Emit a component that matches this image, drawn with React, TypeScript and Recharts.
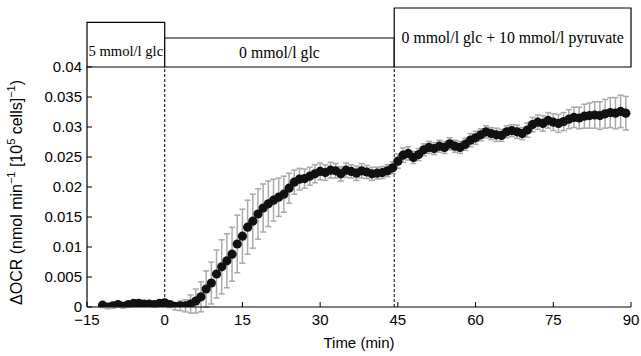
import {
  ScatterChart,
  Scatter,
  XAxis,
  YAxis,
  ErrorBar,
  ReferenceLine,
  ReferenceArea,
} from 'recharts'

// time points (min) and mean ΔOCR with SD
const times = [
  -12, -11, -10, -9, -8, -7, -6, -5, -4, -3, -2, -1, 0, 1, 2, 3, 4, 5, 6, 7, 8, 9, 10, 11, 12, 13, 14,
  15, 16, 17, 18, 19, 20, 21, 22, 23, 24, 25, 26, 27, 28, 29, 30, 31, 32, 33, 34, 35, 36, 37, 38, 39,
  40, 41, 42, 43, 44, 45, 46, 47, 48, 49, 50, 51, 52, 53, 54, 55, 56, 57, 58, 59, 60, 61, 62, 63, 64,
  65, 66, 67, 68, 69, 70, 71, 72, 73, 74, 75, 76, 77, 78, 79, 80, 81, 82, 83, 84, 85, 86, 87, 88, 89,
]

const ocr = [
  0.0003, 0.0, 0.0002, 0.0004, 0.0001, 0.0004, 0.0006, 0.0006, 0.0005, 0.0005, 0.0004, 0.0006,
  0.0007, 0.0004, 0.0001, 0.0002, 0.0002, 0.0005, 0.001, 0.0017, 0.003, 0.004, 0.0055, 0.0067,
  0.0077, 0.0088, 0.0105, 0.0118, 0.0133, 0.0143, 0.0155, 0.0165, 0.0172, 0.0178, 0.0183, 0.0188,
  0.0198, 0.0208, 0.0213, 0.0214, 0.0218, 0.0222, 0.0226, 0.0224, 0.0228, 0.0227, 0.0222, 0.0228,
  0.0226, 0.0223, 0.0227, 0.0225, 0.0222, 0.0223, 0.0224, 0.0227, 0.0232, 0.0243, 0.0253, 0.0256,
  0.0249, 0.0254, 0.0262, 0.0266, 0.0264, 0.0268, 0.0266, 0.0272, 0.0268, 0.0266, 0.0271, 0.0278,
  0.0282, 0.0287, 0.0292, 0.0289, 0.0287, 0.0286, 0.0292, 0.0294, 0.0292, 0.0289, 0.0295, 0.0304,
  0.0308, 0.0306, 0.0311, 0.0308, 0.0306, 0.0309, 0.0313, 0.0316, 0.0315, 0.0318, 0.0319, 0.032,
  0.0319, 0.0322, 0.0324, 0.0323, 0.0326, 0.0323,
]

const sd = [
  0.0004, 0.0003, 0.0004, 0.0004, 0.0003, 0.0004, 0.0004, 0.0004, 0.0004, 0.0003, 0.0004, 0.0004,
  0.0005, 0.0005, 0.0006, 0.0008, 0.001, 0.0015, 0.002, 0.0025, 0.003, 0.0035, 0.004, 0.0045, 0.0045,
  0.0045, 0.0048, 0.0045, 0.0045, 0.0045, 0.0042, 0.004, 0.0038, 0.0035, 0.0032, 0.003, 0.0025,
  0.002, 0.0018, 0.0016, 0.0015, 0.0015, 0.0014, 0.0013, 0.0013, 0.0012, 0.0012, 0.0012, 0.0011,
  0.0012, 0.0012, 0.0011, 0.0011, 0.001, 0.001, 0.001, 0.001, 0.0012, 0.0012, 0.0011, 0.001, 0.001,
  0.001, 0.001, 0.001, 0.001, 0.001, 0.001, 0.001, 0.001, 0.001, 0.0011, 0.0011, 0.001, 0.001,
  0.001, 0.0011, 0.001, 0.001, 0.001, 0.0011, 0.001, 0.0012, 0.0012, 0.0012, 0.0013, 0.0013, 0.0014,
  0.0015, 0.0015, 0.0016, 0.0017, 0.0018, 0.002, 0.0021, 0.0022, 0.0023, 0.0024, 0.0025, 0.0026,
  0.0027, 0.0028, 0.0028, 0.0028,
]

const xTicks = [-15, 0, 15, 30, 45, 60, 75, 90]
const yTicks = [0, 0.005, 0.01, 0.015, 0.02, 0.025, 0.03, 0.035, 0.04]

// condition boxes above the axes
const phaseLabels = ['5 mmol/l glc', '0 mmol/l glc', '0 mmol/l glc + 10 mmol/l pyruvate']
const phaseStart = [-15, 0, 44.3]
const phaseEnd = [0, 44.3, 90]
const boxTop = [0.04743, 0.04483, 0.04983]
const switches = [0, 44.3]

const data = times.map((t, i) => ({ t, ocr: ocr[i], sd: sd[i] }))

const sans = 'Liberation Sans, Arial, Helvetica, sans-serif'
const serif = 'Liberation Serif, Times New Roman, serif'

const fmtX = (v: number) => (v < 0 ? `\u2212${Math.abs(v)}` : String(v))
const blank = () => ''

const Dot = (props: any) => <circle cx={props.cx} cy={props.cy} r={4.6} fill="#111" />
const NoDot = () => <g />

const YLabel = () => (
  <text
    x={22}
    y={305}
    transform="rotate(-90 22 305)"
    textAnchor="start"
    fontFamily={sans}
    fontSize={16}
    fill="#000"
  >
    ΔOCR (nmol min
    <tspan fontSize={11} dy={-7}>−1</tspan>
    <tspan dy={7}> [10</tspan>
    <tspan fontSize={11} dy={-7}>5</tspan>
    <tspan dy={7}> cells]</tspan>
    <tspan fontSize={11} dy={-7}>−1</tspan>
    <tspan dy={7}>)</tspan>
  </text>
)

const inTick = { stroke: '#000', strokeWidth: 1 }

export default function App() {
  return (
    <div style={{ position: 'absolute', left: 0, top: 0, background: '#fff' }}>
      <ScatterChart width={641} height={356} margin={{ top: 67, right: 10, bottom: 0, left: 0 }}>
        <XAxis
          xAxisId="b"
          type="number"
          dataKey="t"
          domain={[-15, 90]}
          allowDataOverflow
          ticks={xTicks}
          tickFormatter={fmtX}
          tickSize={-5}
          tickLine={inTick}
          axisLine={{ stroke: '#000', strokeWidth: 1.2 }}
          tick={{ fill: '#000', fontSize: 15, fontFamily: sans }}
          tickMargin={12}
          height={49}
          label={{ value: 'Time (min)', position: 'insideBottom', offset: 8, fill: '#000', fontSize: 15, fontFamily: sans }}
        />
        <XAxis
          xAxisId="t"
          type="number"
          dataKey="t"
          domain={[-15, 90]}
          allowDataOverflow
          ticks={xTicks}
          orientation="top"
          height={0}
          axisLine={{ stroke: '#000', strokeWidth: 1.2 }}
          tickSize={-5}
          tickLine={inTick}
          tickFormatter={blank}
        />
        <YAxis
          yAxisId="l"
          type="number"
          dataKey="ocr"
          domain={[0, 0.04]}
          allowDataOverflow
          ticks={yTicks}
          width={87}
          tickSize={-5}
          tickLine={inTick}
          axisLine={{ stroke: '#000', strokeWidth: 1.2 }}
          tick={{ fill: '#000', fontSize: 15, fontFamily: sans }}
          tickMargin={10}
          label={{ content: YLabel }}
        />
        <YAxis
          yAxisId="r"
          type="number"
          dataKey="ocr"
          domain={[0, 0.04]}
          allowDataOverflow
          ticks={yTicks}
          orientation="right"
          width={0}
          axisLine={{ stroke: '#000', strokeWidth: 1.2 }}
          tickSize={-5}
          tickLine={inTick}
          tickFormatter={blank}
        />
        {phaseLabels.map((lab, i) => (
          <ReferenceArea
            key={lab}
            xAxisId="b"
            yAxisId="l"
            x1={phaseStart[i]}
            x2={phaseEnd[i]}
            y1={0.04}
            y2={boxTop[i]}
            ifOverflow="visible"
            fill="#fff"
            fillOpacity={1}
            stroke="#000"
            strokeWidth={1.2}
            label={{
              value: lab,
              position: 'center',
              dy: i === 0 ? 6 : 0,
              fill: '#000',
              fontSize: i === 0 ? 14.6 : 15.8,
              fontFamily: serif,
            }}
          />
        ))}
        {switches.map((s) => (
          <ReferenceLine
            key={s}
            xAxisId="b"
            yAxisId="l"
            x={s}
            stroke="#000"
            strokeDasharray="3 2"
            strokeWidth={1}
          />
        ))}
        {/* invisible copy so the top/right frame axes get a scale */}
        <Scatter xAxisId="t" yAxisId="r" data={data} shape={NoDot} isAnimationActive={false} />
        <Scatter xAxisId="b" yAxisId="l" data={data} shape={Dot} isAnimationActive={false}>
          <ErrorBar dataKey="sd" direction="y" width={3} stroke="#aaa" strokeWidth={1.5} />
        </Scatter>
      </ScatterChart>
    </div>
  )
}
